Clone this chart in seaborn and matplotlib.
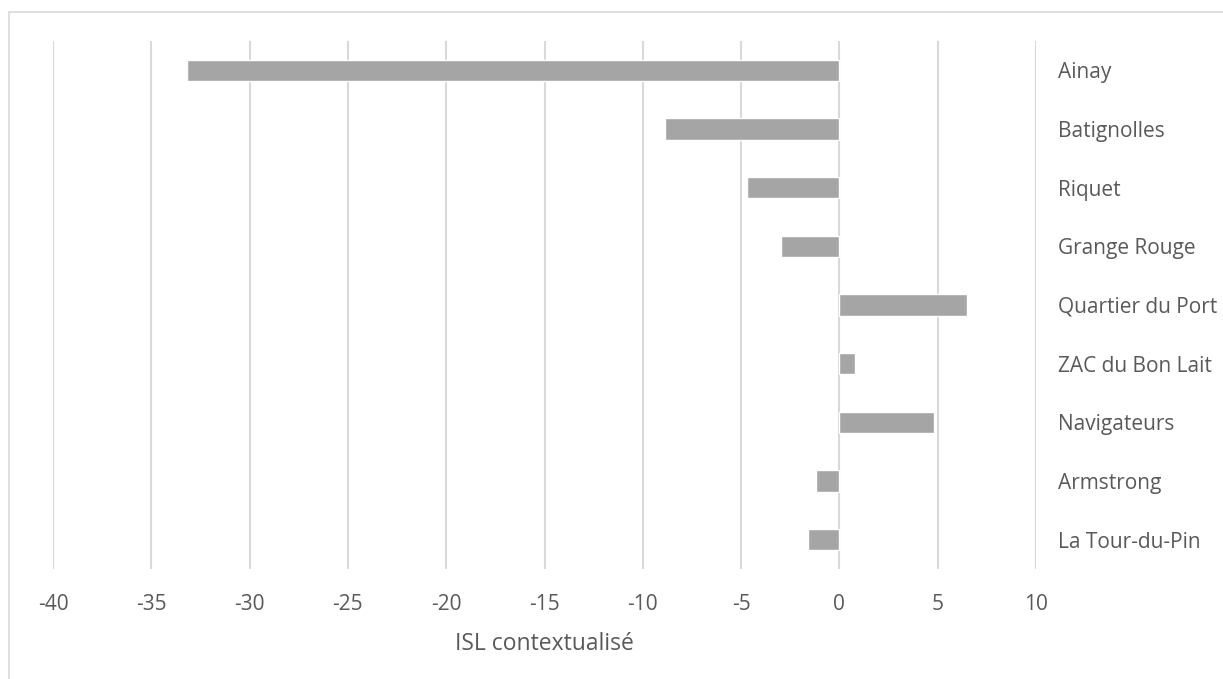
import matplotlib
matplotlib.use("Agg")
import matplotlib.pyplot as plt
import seaborn as sns
import pandas as pd
from matplotlib.patches import Rectangle

# Values
quartiers = ["Ainay", "Batignolles", "Riquet", "Grange Rouge", "Quartier du Port",
             "ZAC du Bon Lait", "Navigateurs", "Armstrong", "La Tour-du-Pin"]
isl = [-33.2, -8.85, -4.68, -2.97, 6.5, 0.8, 4.82, -1.17, -1.58]
x_ticks = list(range(-40, 11, 5))

df = pd.DataFrame({"quartier": quartiers, "isl": isl})

sns.set_theme(style="white")
plt.rcParams["font.family"] = ["Open Sans", "DejaVu Sans"]

text_col = "#595959"
grid_col = "#D9D9D9"

fig = plt.figure(figsize=(12.23, 6.79), dpi=100)
ax = fig.add_axes([53 / 1223, 1 - 569 / 679, (1036 - 53) / 1223, (569 - 41) / 679])

sns.barplot(data=df, x="isl", y="quartier", orient="h", color="#A5A5A5",
            saturation=1, width=0.36, ax=ax, zorder=3)

ax.set_xlim(-40, 10)
ax.set_ylim(8.5, -0.5)
ax.set_xticks(x_ticks)
ax.set_xticklabels([str(t) for t in x_ticks])
ax.xaxis.grid(True, color=grid_col, linewidth=1.5, zorder=0)
ax.set_axisbelow(True)

for s in ax.spines.values():
    s.set_visible(False)

ax.yaxis.tick_right()
ax.tick_params(axis="y", length=0, pad=16, labelsize=15, labelcolor=text_col)
ax.tick_params(axis="x", length=0, pad=18, labelsize=15, labelcolor=text_col)
ax.set_ylabel("")
ax.set_xlabel("ISL contextualisé", fontsize=16.5, color=text_col, labelpad=12)

# chart border like the spreadsheet frame
fig.patches.append(Rectangle((9 / 1223, -0.1), 1.2, 1 - 12 / 679 + 0.1,
                             transform=fig.transFigure, fill=False,
                             edgecolor=grid_col, linewidth=1.2))

fig.savefig("out.png", dpi=100)
